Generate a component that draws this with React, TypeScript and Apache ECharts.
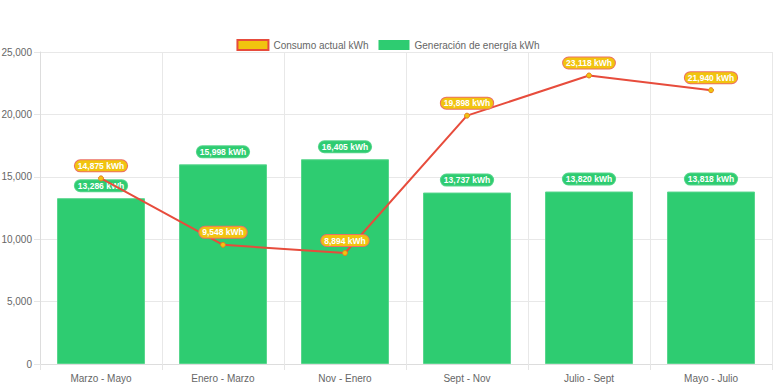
import React, { useEffect, useRef } from "react";
import * as echarts from "echarts";

const categories = ["Marzo - Mayo", "Enero - Marzo", "Nov - Enero", "Sept - Nov", "Julio - Sept", "Mayo - Julio"];
const consumo = [14875, 9548, 8894, 19898, 23118, 21940];
const generacion = [13286, 15998, 16405, 13737, 13820, 13818];
const yTicks = [0, 5000, 10000, 15000, 20000, 25000];

const fmt = (v: number) => v.toLocaleString("en-US");
const FONT = "Liberation Sans, Arial, sans-serif";

export default function App() {
  const ref = useRef<HTMLDivElement>(null);
  useEffect(() => {
    const chart = echarts.init(ref.current!, null, { renderer: "svg" });
    chart.setOption({
      animation: false,
      textStyle: { fontFamily: FONT },
      legend: {
        top: 34,
        left: "center",
        itemWidth: 31,
        itemHeight: 10,
        itemGap: 10,
        textStyle: { fontSize: 10, color: "#666", fontFamily: FONT },
        data: [
          { name: "Consumo actual kWh", icon: "rect", itemStyle: { color: "#f1c40f", borderColor: "#e74c3c", borderWidth: 2 } },
          { name: "Generación de energía kWh", icon: "rect", itemStyle: { color: "#2ecc71", borderWidth: 0 } },
        ],
      },
      grid: { left: 40, right: 4, top: 52, bottom: 24, containLabel: false, outerBoundsMode: "none" },
      xAxis: {
        type: "category",
        data: categories,
        axisLine: { show: true, lineStyle: { color: "#ddd" } },
        axisTick: { show: true, length: 6, lineStyle: { color: "#e5e5e5" } },
        splitLine: { show: true, lineStyle: { color: "#e8e8e8" } },
        axisLabel: { fontSize: 10, color: "#666", margin: 9, fontFamily: FONT },
      },
      yAxis: {
        type: "value",
        min: yTicks[0],
        max: yTicks[yTicks.length - 1],
        interval: 5000,
        axisLine: { show: true, lineStyle: { color: "#ddd" } },
        axisTick: { show: true, length: 6, lineStyle: { color: "#e5e5e5" } },
        splitLine: { show: true, lineStyle: { color: "#e8e8e8" } },
        axisLabel: { fontSize: 10, color: "#666", margin: 8, fontFamily: FONT, formatter: (v: number) => fmt(v) },
      },
      series: [
        {
          name: "Consumo actual kWh",
          type: "line",
          data: consumo,
          z: 5,
          symbol: "circle",
          symbolSize: 5,
          lineStyle: { color: "#e74c3c", width: 2 },
          itemStyle: { color: "#f1c40f", borderColor: "#e67e22", borderWidth: 1 },
          label: {
            show: true,
            position: "top",
            distance: 4,
            formatter: (p: any) => fmt(p.value) + " kWh",
            color: "#fff",
            fontWeight: "bold",
            fontSize: 8.5,
            fontFamily: FONT,
            backgroundColor: "#f1c40f",
            borderColor: "#ec7063",
            borderWidth: 1,
            borderRadius: 6,
            padding: [1, 3, 1, 3],
          },
        },
        {
          name: "Generación de energía kWh",
          type: "bar",
          data: generacion,
          barWidth: 88,
          z: 2,
          itemStyle: { color: "#2ecc71", borderColor: "#58d68d", borderWidth: 1 },
          label: {
            show: true,
            position: "top",
            distance: 7,
            formatter: (p: any) => fmt(p.value) + " kWh",
            color: "#fff",
            fontWeight: "bold",
            fontSize: 8.5,
            fontFamily: FONT,
            backgroundColor: "#2ecc71",
            borderColor: "#58d68d",
            borderWidth: 1,
            borderRadius: 6,
            padding: [1, 3, 1, 3],
          },
        },
      ],
    });
    return () => chart.dispose();
  }, []);
  return <div ref={ref} style={{ width: 776, height: 388, position: "absolute", left: 0, top: 0 }} />;
}
